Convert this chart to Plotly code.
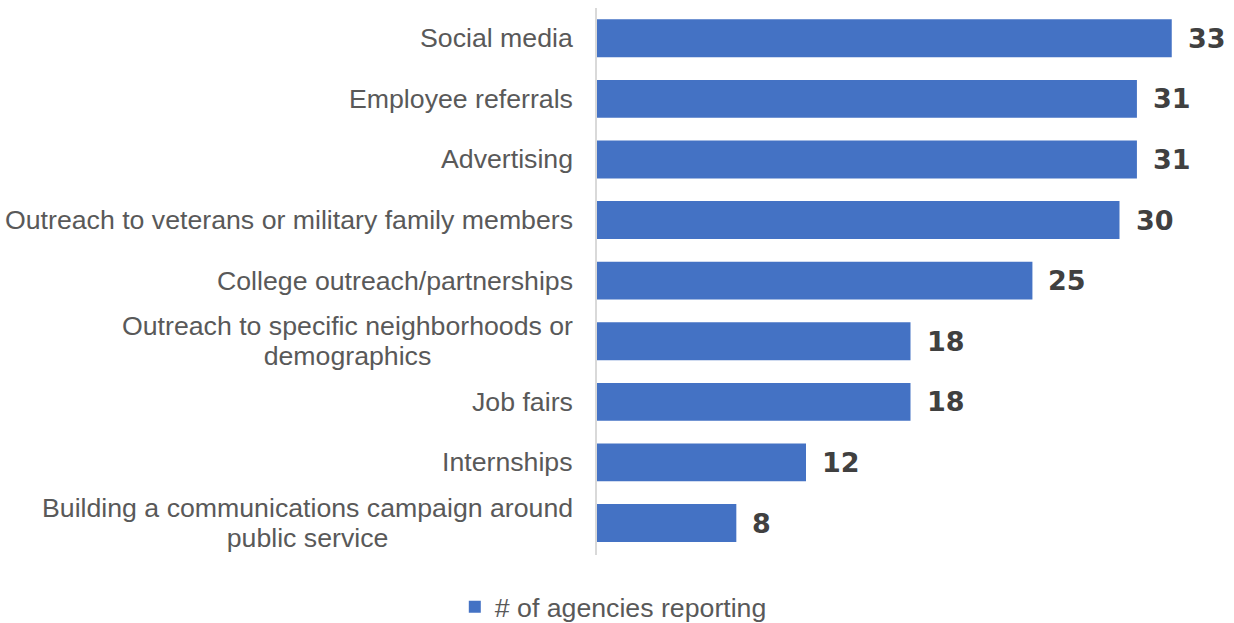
import plotly.graph_objects as go

# Recruitment channels, listed top to bottom
categories = [
    "Social media",
    "Employee referrals",
    "Advertising",
    "Outreach to veterans or military family members",
    "College outreach/partnerships",
    "Outreach to specific neighborhoods or<br>demographics",
    "Job fairs",
    "Internships",
    "Building a communications campaign around<br>public service",
]
agencies = [33, 31, 31, 30, 25, 18, 18, 12, 8]
series_name = "# of agencies reporting"

BAR_COLOR = "#4472C4"
LABEL_COLOR = "#595959"
VALUE_COLOR = "#404040"
FONT = "Liberation Sans, Arial, sans-serif"
LABEL_SIZE = 26.7

fig = go.Figure()
fig.add_trace(go.Bar(
    x=agencies,
    y=categories,
    orientation="h",
    name=series_name,
    marker=dict(color=BAR_COLOR, line=dict(width=0)),
    showlegend=True,
))

# Category labels (centred multi-line text, right-aligned to the axis).
# The base font size sets the line spacing; the span sets the glyph size.
for cat in categories:
    fig.add_annotation(
        x=0, y=cat, xref="x", yref="y",
        text=f'<span style="font-size:{LABEL_SIZE}px">{cat}</span>'.replace(
            "<br>", f'</span><br><span style="font-size:{LABEL_SIZE}px">'),
        showarrow=False,
        xanchor="right", yanchor="middle", align="center",
        xshift=-22,
        font=dict(family=FONT, size=23, color=LABEL_COLOR),
    )

# Value labels at the end of each bar
for cat, val in zip(categories, agencies):
    fig.add_annotation(
        x=val, y=cat, xref="x", yref="y",
        text=str(val), showarrow=False,
        xanchor="left", yanchor="middle",
        xshift=14,
        font=dict(family="DejaVu Sans, sans-serif", size=27, color=VALUE_COLOR, weight="bold"),
    )

fig.update_layout(
    width=1234, height=623,
    margin=dict(l=597, r=10, t=8, b=68),
    paper_bgcolor="white", plot_bgcolor="white",
    bargap=0.375,
    font=dict(family=FONT, color=LABEL_COLOR),
    legend=dict(
        orientation="h",
        xref="container", yref="container",
        x=0.497, y=0.026, xanchor="center", yanchor="middle",
        font=dict(family=FONT, size=LABEL_SIZE, color=LABEL_COLOR),
        itemwidth=30,
    ),
    xaxis=dict(
        range=[0, 36], showgrid=False, zeroline=False,
        showticklabels=False, showline=False, fixedrange=True,
    ),
    yaxis=dict(
        autorange="reversed", showticklabels=False, showgrid=False,
        zeroline=False, showline=True, linecolor="#D9D9D9", linewidth=2,
        ticks="",
    ),
)

fig.write_html("out.html")
